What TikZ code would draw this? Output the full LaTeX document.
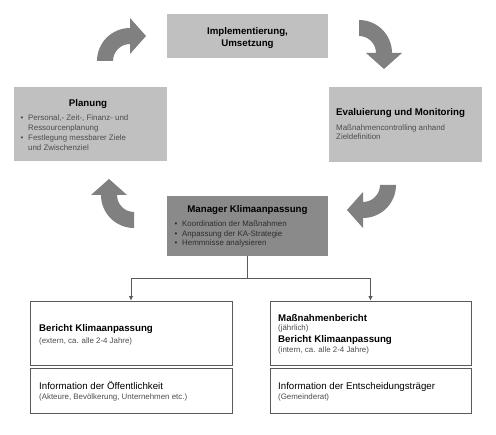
\documentclass[tikz,border=0pt]{standalone}
\usepackage{fontspec}
\setmainfont{Liberation Sans}
\usetikzlibrary{calc,arrows.meta}
\definecolor{lightbox}{HTML}{C0C0C0}
\definecolor{darkbox}{HTML}{8A8A8A}
\definecolor{arrowfill}{HTML}{808080}
\definecolor{smalltext}{HTML}{4C4C4C}
\definecolor{mgrtext}{HTML}{2E2E2E}
\definecolor{framecol}{HTML}{5A5A5A}
\newcommand\cycarrow[3]{%
  \pgfmathsetmacro\ea{#3+90}%
  \fill[arrowfill] ($(#1,#2)+(#3:33)$) arc[start angle=#3, end angle=\ea, radius=33]
    -- ($(#1,#2)+(\ea:43)$) -- ($(#1,#2)+(\ea:25)+(\ea+90:16)$) -- ($(#1,#2)+(\ea:7)$)
    -- ($(#1,#2)+(\ea:17)$) arc[start angle=\ea, end angle=#3, radius=17] -- cycle;}
\begin{document}
\begin{tikzpicture}[x=1pt,y=-1pt,
  lbox/.style={rectangle, fill=lightbox, inner sep=0pt},
  dbox/.style={rectangle, fill=darkbox, inner sep=0pt},
  wbox/.style={rectangle, draw=framecol, line width=0.8pt, fill=white, inner sep=0pt},
  title/.style={inner sep=0pt, font=\fontsize{9.7}{11}\selectfont\bfseries},
  reg/.style={inner sep=0pt, font=\fontsize{9.7}{11}\selectfont},
  small/.style={inner sep=0pt, text=smalltext, font=\fontsize{7.9}{9}\selectfont},
  msmall/.style={small, text=mgrtext},
  conn/.style={draw=framecol, line width=0.8pt},
  connarr/.style={conn, -{Latex[length=4.5pt,width=4.5pt]}}]
\useasboundingbox[fill=white] (0,0) rectangle (496,435);

% cycle arrows
\cycarrow{130}{61}{180}
\cycarrow{359}{53}{270}
\cycarrow{363}{185}{0}
\cycarrow{134}{195}{90}

% boxes
\node[lbox, minimum width=161pt, minimum height=44pt] (impl) at (247.5,36) {};
\node[lbox, minimum width=153pt, minimum height=74pt] (plan) at (90.5,124) {};
\node[lbox, minimum width=153pt, minimum height=75pt] (eval) at (405.5,124.5) {};
\node[dbox, minimum width=161pt, minimum height=60pt] (mgr) at (247.5,226) {};
\node[wbox, minimum width=202pt, minimum height=64pt] (lb1) at (131,333) {};
\node[wbox, minimum width=202pt, minimum height=45pt] (lb2) at (131,390.5) {};
\node[wbox, minimum width=201pt, minimum height=64pt] (rb1) at (370.5,333) {};
\node[wbox, minimum width=201pt, minimum height=45pt] (rb2) at (370.5,390.5) {};

% Implementierung
\node[title, anchor=base] (implA) at (247.5,34.5) {Implementierung,};
\node[title, anchor=base] (implB) at (247.5,46.5) {Umsetzung};

% Planung
\node[title, anchor=base] (planT) at (88,106.5) {Planung};
\node[small, anchor=base] (planb1) at (22,121) {•};
\node[small, anchor=base west] (plan1) at (28,121) {Personal,- Zeit-, Finanz- und};
\node[small, anchor=base west] (plan2) at (28,131) {Ressourcenplanung};
\node[small, anchor=base] (planb2) at (22,141) {•};
\node[small, anchor=base west] (plan3) at (28,141) {Festlegung messbarer Ziele};
\node[small, anchor=base west] (plan4) at (28,150.5) {und Zwischenziel};

% Evaluierung
\node[title, anchor=base west] (evalT) at (336,115.5) {Evaluierung und Monitoring};
\node[small, anchor=base west] (eval1) at (336,130.5) {Maßnahmencontrolling anhand};
\node[small, anchor=base west] (eval2) at (336,140) {Zieldefinition};

% Manager
\node[title, anchor=base] (mgrT) at (247.5,212.5) {Manager Klimaanpassung};
\node[msmall, anchor=base] (mgrb1) at (176,226.8) {•};
\node[msmall, anchor=base west] (mgr1) at (182,226.8) {Koordination der Maßnahmen};
\node[msmall, anchor=base] (mgrb2) at (176,236.3) {•};
\node[msmall, anchor=base west] (mgr2) at (182,236.3) {Anpassung der KA-Strategie};
\node[msmall, anchor=base] (mgrb3) at (176,245.8) {•};
\node[msmall, anchor=base west] (mgr3) at (182,245.8) {Hemmnisse analysieren};

% bottom left
\node[title, anchor=base west] (lb1T) at (39,331.5) {Bericht Klimaanpassung};
\node[small, anchor=base west] (lb1s) at (39,343.8) {(extern, ca. alle 2-4 Jahre)};
\node[reg, anchor=base west] (lb2T) at (39,389.5) {Information der Öffentlichkeit};
\node[small, anchor=base west] (lb2s) at (39,399.8) {(Akteure, Bevölkerung, Unternehmen etc.)};

% bottom right
\node[title, anchor=base west] (rb1T) at (278,321.5) {Maßnahmenbericht};
\node[small, anchor=base west] (rb1s) at (278,330.8) {(jährlich)};
\node[title, anchor=base west] (rb1U) at (278,342.5) {Bericht Klimaanpassung};
\node[small, anchor=base west] (rb1t) at (278,352.8) {(intern, ca. alle 2-4 Jahre)};
\node[reg, anchor=base west] (rb2T) at (278,389.5) {Information der Entscheidungsträger};
\node[small, anchor=base west] (rb2s) at (278,399.8) {(Gemeinderat)};

% connectors
\coordinate (junc) at (247.5,278);
\draw[conn] (mgr.south) -- (junc);
\draw[connarr] (junc) -| (lb1.north);
\draw[connarr] (junc) -| (rb1.north);
\end{tikzpicture}
\end{document}
